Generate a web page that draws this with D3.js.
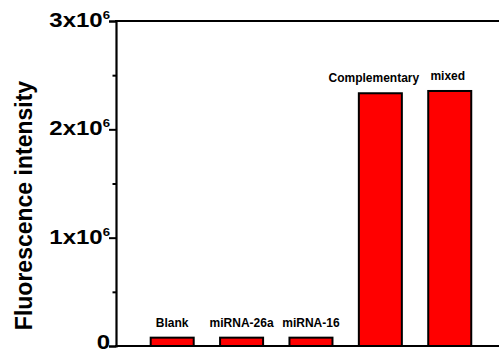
<!DOCTYPE html>
<html>
<head>
<meta charset="utf-8">
<script src="https://cdn.jsdelivr.net/npm/d3@7/dist/d3.min.js"></script>
<style>
  html, body { margin: 0; padding: 0; background: #fff; }
  svg { display: block; }
  text { font-family: "Liberation Sans", Arial, sans-serif; font-weight: bold; fill: #000; }
</style>
</head>
<body>
<svg id="chart" width="499" height="353"></svg>
<script>
const categories = ["Blank", "miRNA-26a", "miRNA-16", "Complementary", "mixed"];
const values = [77000, 77000, 77000, 2333000, 2354000];
const majorTicks = [0, 1e6, 2e6, 3e6];
const majorTickBases = ["0", "1x10", "2x10", "3x10"];
const majorTickExps = ["", "6", "6", "6"];
const minorTicks = [0.5e6, 1.5e6, 2.5e6];
const yTitle = "Fluorescence intensity";

(function () {
const svg = d3.select("#chart");
const W = 499, H = 353;
const mLeft = 116, mTop = 21, mBottom = 346;

const y = d3.scaleLinear().domain([0, 3e6]).range([mBottom, mTop]);
const x = d3.scaleLinear().domain([0.19, 5.71]).range([mLeft, W]);
const barW = 0.62;

// bars
svg.append("g").selectAll("rect").data(values).join("rect")
  .attr("x", (d, i) => x(i + 1 - barW / 2))
  .attr("width", x(barW) - x(0))
  .attr("y", d => y(d))
  .attr("height", d => y(0) - y(d))
  .attr("fill", "#ff0000")
  .attr("stroke", "#000")
  .attr("stroke-width", 2);

// bar labels
const labelDx = [0, 0, 0, -6.5, -2];
svg.append("g").selectAll("text").data(values).join("text")
  .attr("x", (d, i) => x(i + 1) + labelDx[i])
  .attr("y", d => y(d) - 11)
  .attr("text-anchor", "middle")
  .attr("font-size", 12)
  .text((d, i) => categories[i]);

// left axis with major ticks
const axis = d3.axisLeft(y).tickValues(majorTicks).tickSize(7).tickFormat("");
const ag = svg.append("g").attr("transform", `translate(${mLeft},0)`).call(axis);
ag.select(".domain").attr("stroke", "#000").attr("stroke-width", 2.2);
ag.selectAll(".tick line").attr("stroke", "#000").attr("stroke-width", 2);

// minor ticks
const minorAxis = d3.axisLeft(y).tickValues(minorTicks).tickSize(3.5).tickFormat("");
const mg = svg.append("g").attr("transform", `translate(${mLeft},0)`).call(minorAxis);
mg.select(".domain").remove();
mg.selectAll(".tick line").attr("stroke", "#000").attr("stroke-width", 2);

// tick labels with superscripts (slightly widened glyphs as in the reference)
const tl = svg.append("g").selectAll("text").data(majorTicks).join("text")
  .attr("transform", d => `translate(${mLeft - 6},${Math.min(y(d) + 6, H - 4.5)}) scale(1.2,1)`)
  .attr("text-anchor", "end")
  .attr("font-size", 20);
tl.append("tspan").text((d, i) => majorTickBases[i]);
tl.append("tspan").attr("font-size", 11).attr("dy", -8).text((d, i) => majorTickExps[i]);

// top and bottom frame lines
svg.append("line").attr("x1", mLeft - 1).attr("x2", W).attr("y1", mTop).attr("y2", mTop)
  .attr("stroke", "#000").attr("stroke-width", 2.2);
svg.append("line").attr("x1", mLeft - 1).attr("x2", W).attr("y1", mBottom).attr("y2", mBottom)
  .attr("stroke", "#000").attr("stroke-width", 2.2);

// y title
svg.append("text")
  .attr("transform", `translate(32,${(78 + 333) / 2}) rotate(-90)`)
  .attr("text-anchor", "middle")
  .attr("font-size", 23)
  .text(yTitle);
})();
</script>
</body>
</html>
